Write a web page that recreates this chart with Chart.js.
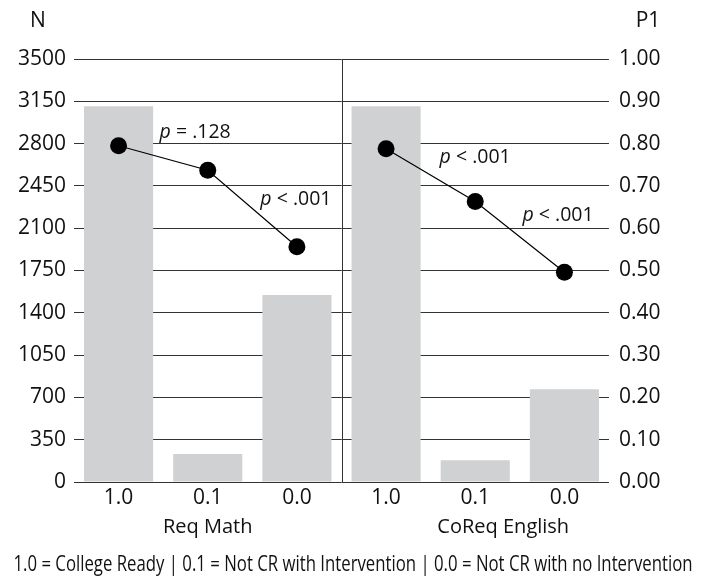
<!DOCTYPE html>
<html lang="en">
<head>
  <meta charset="UTF-8">
  <title>N and P1 by readiness group</title>
  <script src="https://cdn.jsdelivr.net/npm/chart.js"></script>
  <style>
    body { margin: 0; background: #fff; }
    #grafico { display: block; }
  </style>
</head>
<body>
  <canvas id="grafico" width="709" height="578"></canvas>

<script>
  // categories, 3 per group
  const categorias = ['1.0', '0.1', '0.0', '1.0', '0.1', '0.0'];
  const grupos = ['Req Math', 'CoReq English'];

  // N (left axis, bars)
  const valoresN = [3110, 232, 1547, 3110, 180, 768];

  // P1 (right axis, points)
  const p1Math = [0.795, 0.737, 0.556, null, null, null];
  const p1English = [null, null, null, 0.788, 0.663, 0.496];

  // tick labels
  const ticksN = [0, 350, 700, 1050, 1400, 1750, 2100, 2450, 2800, 3150, 3500];
  const ticksP1 = [0, 0.1, 0.2, 0.3, 0.4, 0.5, 0.6, 0.7, 0.8, 0.9, 1.0];

  const legenda = '1.0 = College Ready | 0.1 = Not CR with Intervention | 0.0 = Not CR with no Intervention';

  // p-value notes: cat = position on category axis, p = P1 value of baseline
  const anotacoes = [
    { sinal: ' = .128', cat: 0.46, p: 0.814 },
    { sinal: ' < .001', cat: 1.59, p: 0.655 },
    { sinal: ' < .001', cat: 3.60, p: 0.754 },
    { sinal: ' < .001', cat: 4.53, p: 0.616 }
  ];

  const fonte = "'Open Sans', sans-serif";
  const corTexto = '#111';

  // divider between the two groups
  const divisoria = {
    id: 'divisoria',
    beforeDatasetsDraw(chart) {
      const ctx = chart.ctx;
      const x = chart.scales.x;
      const area = chart.chartArea;
      const xDiv = Math.round((x.getPixelForValue(2) + x.getPixelForValue(3)) / 2) + 0.5;
      ctx.save();
      ctx.strokeStyle = '#333';
      ctx.lineWidth = 1;
      ctx.beginPath();
      ctx.moveTo(xDiv, area.top);
      ctx.lineTo(xDiv, area.bottom);
      ctx.stroke();
      ctx.restore();
    }
  };

  // all extra text: axis titles, group names, p-values, caption
  const textos = {
    id: 'textos',
    afterDraw(chart) {
      const ctx = chart.ctx;
      const x = chart.scales.x;
      const yP = chart.scales.y1;
      ctx.save();
      ctx.fillStyle = corTexto;
      ctx.textBaseline = 'middle';
      ctx.textAlign = 'center';
      ctx.font = '21px ' + fonte;
      ctx.fillText('N', 38, 21);
      ctx.fillText('P1', 648, 21);

      // group names
      ctx.font = '20px ' + fonte;
      ctx.fillText(grupos[0], x.getPixelForValue(1), 527);
      ctx.fillText(grupos[1], x.getPixelForValue(4) + 28, 527);

      // p-values
      ctx.textAlign = 'left';
      ctx.textBaseline = 'alphabetic';
      anotacoes.forEach(function (a) {
        const px = x.getPixelForValue(a.cat);
        const py = yP.getPixelForValue(a.p);
        ctx.font = 'italic 19.5px ' + fonte;
        ctx.fillText('p', px, py);
        const w = ctx.measureText('p').width;
        ctx.font = '19.5px ' + fonte;
        ctx.fillText(a.sinal, px + w, py);
      });

      // caption under the chart (condensed)
      ctx.textAlign = 'center';
      ctx.textBaseline = 'middle';
      ctx.font = '21px ' + fonte;
      ctx.fillText(legenda, 353, 565, 679);
      ctx.restore();
    }
  };

  const dados = {
    labels: categorias,
    datasets: [
      {
        type: 'line',
        label: 'P1 Req Math',
        data: p1Math,
        yAxisID: 'y1',
        borderColor: '#000',
        borderWidth: 1.2,
        backgroundColor: '#000',
        pointRadius: 8.5,
        pointBorderWidth: 0,
        order: 0
      },
      {
        type: 'line',
        label: 'P1 CoReq English',
        data: p1English,
        yAxisID: 'y1',
        borderColor: '#000',
        borderWidth: 1.2,
        backgroundColor: '#000',
        pointRadius: 8.5,
        pointBorderWidth: 0,
        order: 0
      },
      {
        type: 'bar',
        label: 'N',
        data: valoresN,
        yAxisID: 'y',
        backgroundColor: '#d0d1d3',
        barPercentage: 0.775,
        categoryPercentage: 1,
        order: 1
      }
    ]
  };

  const config = {
    data: dados,
    plugins: [divisoria, textos],
    options: {
      responsive: false,
      animation: false,
      layout: { padding: { top: 59, left: 0, right: 0, bottom: 0 } },
      plugins: {
        legend: { display: false },
        tooltip: { enabled: false }
      },
      scales: {
        x: {
          grid: { display: false, drawTicks: false },
          border: { display: false },
          ticks: { color: corTexto, font: { family: fonte, size: 21 }, padding: 3, maxRotation: 0 },
          afterFit: function (s) { s.height = 96; }
        },
        y: {
          position: 'left',
          min: 0,
          max: 3500,
          afterBuildTicks: function (s) { s.ticks = ticksN.map(v => ({ value: v })); },
          grid: { color: '#333', lineWidth: 1, drawTicks: false },
          border: { display: false },
          ticks: {
            color: corTexto,
            font: { family: fonte, size: 21 },
            padding: 8,
            callback: function (v) { return String(v); }
          },
          afterFit: function (s) { s.width = 74; }
        },
        y1: {
          position: 'right',
          min: 0,
          max: 1,
          afterBuildTicks: function (s) { s.ticks = ticksP1.map(v => ({ value: v })); },
          grid: { display: false, drawTicks: false },
          border: { display: false },
          ticks: {
            color: corTexto,
            font: { family: fonte, size: 21 },
            padding: 10,
            callback: function (v) { return Number(v).toFixed(2); }
          },
          afterFit: function (s) { s.width = 100; }
        }
      }
    }
  };

  let grafico = new Chart(document.getElementById('grafico'), config);
</script>
</body>
</html>
